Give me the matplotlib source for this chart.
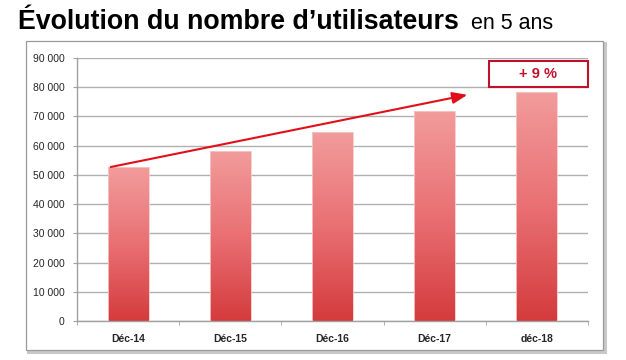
import numpy as np
import matplotlib
matplotlib.use("Agg")
import matplotlib.pyplot as plt
from matplotlib.patches import Rectangle
from matplotlib.colors import LinearSegmentedColormap
from matplotlib.ticker import FuncFormatter

# data
categories = ["Déc-14", "Déc-15", "Déc-16", "Déc-17", "déc-18"]
users = [52600, 58300, 64800, 72000, 78500]
growth_label = "+ 9 %"

plt.rcParams['font.family'] = ['Liberation Sans', 'DejaVu Sans']

fig = plt.figure(figsize=(6.26, 3.6), dpi=100)

# outer frame with a light shadow
fig.add_artist(Rectangle((28 / 626, 1 - 352 / 360), 577 / 626, 309 / 360,
                         transform=fig.transFigure, facecolor='none',
                         edgecolor='#C8C8C8', linewidth=2.2, zorder=0))
fig.add_artist(Rectangle((26 / 626, 1 - 350 / 360), 577 / 626, 309 / 360,
                         transform=fig.transFigure, facecolor='white',
                         edgecolor='#9A9A9A', linewidth=0.9, zorder=0))

# title
fig.text(18 / 626, 1 - 29 / 360, "Évolution du nombre d’utilisateurs",
         fontsize=19.3, fontweight='bold', color='black', ha='left', va='baseline')
fig.text(471 / 626, 1 - 29 / 360, "en 5 ans", fontsize=15.5, color='black',
         ha='left', va='baseline')

ax = fig.add_axes([77 / 626, 1 - 321 / 360, 511 / 626, 263 / 360])
ax.set_facecolor('none')
x = np.arange(len(categories))
bars = ax.bar(x, users, width=0.4, color='none', edgecolor='#F6C8C8', linewidth=0.6, zorder=3)

# vertical gradient fill for each bar
cmap = LinearSegmentedColormap.from_list("grad", ["#D43B3D", "#E97073", "#F29C9C"])
grad = np.linspace(0, 1, 256).reshape(-1, 1)
for b in bars:
    im = ax.imshow(grad, cmap=cmap, origin='lower', aspect='auto', zorder=2,
                   extent=[b.get_x(), b.get_x() + b.get_width(), 0, b.get_height()])
    im.set_clip_path(b)

ax.set_xlim(-0.5, len(categories) - 0.5)
ax.set_ylim(0, 90000)
ax.set_yticks(np.arange(0, 90001, 10000))
ax.yaxis.set_major_formatter(FuncFormatter(lambda v, p: f"{int(v):,}".replace(",", " ")))
ax.set_xticks(x)
ax.set_xticklabels(categories, fontsize=7.5, fontweight='bold', color='#262626')
ax.set_xticks(np.arange(-0.5, len(categories)), minor=True)
ax.tick_params(axis='x', which='major', length=0, pad=9)
ax.tick_params(axis='x', which='minor', length=3, color='#A0A0A0')
ax.tick_params(axis='y', length=3, color='#A0A0A0', labelsize=7.5, labelcolor='#262626', pad=6)
ax.grid(axis='y', color='#B0B0B0', linewidth=1, zorder=0)
for s in ['top', 'right']:
    ax.spines[s].set_visible(False)
for s in ['left', 'bottom']:
    ax.spines[s].set_color('#A0A0A0')
    ax.spines[s].set_linewidth(1)

# trend arrow
ax.annotate("", xy=(3.32, 77400), xytext=(-0.17, 52700),
            arrowprops=dict(arrowstyle='-|>,head_length=0.9,head_width=0.35',
                            color='#E0101A', lw=1.5, shrinkA=0, shrinkB=0), zorder=5)

# growth label box
ax.add_patch(Rectangle((0.806, 0.89), 0.194, 0.099, transform=ax.transAxes,
                       facecolor='white', edgecolor='#C0102A', linewidth=1.5,
                       zorder=6, clip_on=False))
ax.text(0.903, 0.94, growth_label, transform=ax.transAxes, ha='center', va='center',
        fontsize=10.5, fontweight='bold', color='#C0102A', zorder=7)

fig.savefig("out.png", dpi=100)
